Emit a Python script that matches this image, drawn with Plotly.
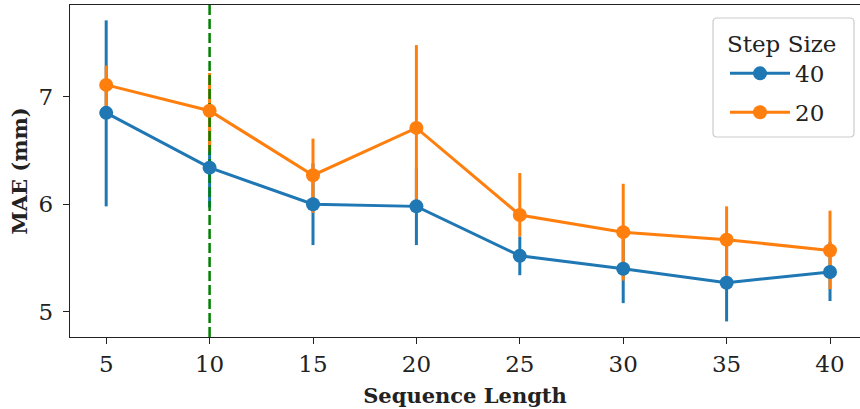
import plotly.graph_objects as go

# Sequence lengths evaluated
seq_len = [5, 10, 15, 20, 25, 30, 35, 40]

# Step size 40: mean MAE and confidence interval bounds (mm)
mae_40 = [6.85, 6.34, 6.00, 5.98, 5.52, 5.40, 5.27, 5.37]
lo_40 = [5.98, 5.97, 5.62, 5.62, 5.34, 5.08, 4.91, 5.10]
hi_40 = [7.71, 6.70, 6.38, 6.34, 5.70, 5.72, 5.63, 5.65]

# Step size 20: mean MAE and confidence interval bounds (mm)
mae_20 = [7.11, 6.87, 6.27, 6.71, 5.90, 5.74, 5.67, 5.57]
lo_20 = [6.89, 6.49, 5.92, 6.02, 5.70, 5.29, 5.29, 5.21]
hi_20 = [7.29, 7.22, 6.61, 7.48, 6.29, 6.19, 5.98, 5.94]

# Chosen sequence length, marked with a dashed line
chosen_len = 10

series = [
    ("40", mae_40, lo_40, hi_40, "#1f77b4"),
    ("20", mae_20, lo_20, hi_20, "#ff7f0e"),
]

x_range = [3.25, 41.45]
y_range = [4.765, 7.853]
font_family = "DejaVu Serif"

fig = go.Figure()

# Error bars first, so every marker sits on top of them
for name, mean, lo, hi, color in series:
    fig.add_trace(go.Scatter(
        x=seq_len, y=mean, mode="markers",
        marker=dict(size=1, color="rgba(0,0,0,0)"),
        error_y=dict(
            type="data", symmetric=False,
            array=[h - m for h, m in zip(hi, mean)],
            arrayminus=[m - l for m, l in zip(mean, lo)],
            color=color, thickness=3, width=0,
        ),
        showlegend=False, hoverinfo="skip",
    ))

# Dashed vertical marker at the chosen sequence length
fig.add_trace(go.Scatter(
    x=[chosen_len, chosen_len], y=y_range, mode="lines",
    line=dict(color="green", width=2.5, dash="10px,4px"),
    showlegend=False, hoverinfo="skip",
))

# Mean lines with markers
for name, mean, lo, hi, color in series:
    fig.add_trace(go.Scatter(
        x=seq_len, y=mean, mode="lines+markers", name=name,
        legendgroup=name,
        line=dict(color=color, width=3),
        marker=dict(size=14, color=color),
    ))

# Rounded legend frame
x0, x1 = (713 - 70) / 790, (854 - 70) / 790
y1, y0 = 1 - (18 - 5) / 332, 1 - (137 - 5) / 332
rx, ry = 4 / 790, 4 / 332
frame = (
    f"M{x0 + rx},{y1} L{x1 - rx},{y1} Q{x1},{y1} {x1},{y1 - ry} "
    f"L{x1},{y0 + ry} Q{x1},{y0} {x1 - rx},{y0} "
    f"L{x0 + rx},{y0} Q{x0},{y0} {x0},{y0 + ry} "
    f"L{x0},{y1 - ry} Q{x0},{y1} {x0 + rx},{y1} Z"
)
fig.add_shape(type="path", path=frame, xref="paper", yref="paper",
              line=dict(color="#cccccc", width=1.2),
              fillcolor="rgba(255,255,255,0.8)", layer="above")

axis_common = dict(
    showgrid=False, zeroline=False,
    showline=True, linecolor="#222222", linewidth=1.3,
    ticks="outside", ticklen=6, tickwidth=1.2, tickcolor="#222222",
    tickfont=dict(family=font_family, size=23, color="#222222"),
)

fig.update_layout(
    width=860, height=409,
    margin=dict(l=70, r=0, t=5, b=72),
    plot_bgcolor="white", paper_bgcolor="white",
    font=dict(family=font_family, color="#222222"),
    xaxis=dict(
        **axis_common, range=x_range, mirror=True,
        tickmode="array", tickvals=seq_len,
        ticklabelstandoff=0,
        title=dict(text="<b>Sequence Length</b>", standoff=12,
                   font=dict(family=font_family, size=21, color="#222222")),
    ),
    yaxis=dict(
        **axis_common, range=y_range,
        tickmode="array", tickvals=[5, 6, 7],
        ticklabelstandoff=5,
        title=dict(text="<b>MAE (mm)</b>", standoff=5,
                   font=dict(family=font_family, size=21, color="#222222")),
    ),
    legend=dict(
        title=dict(text="Step Size", font=dict(family=font_family, size=23)),
        font=dict(family=font_family, size=23, color="#222222"),
        x=(725 - 70) / 790, y=1 - (22 - 5) / 332,
        xanchor="left", yanchor="top",
        bgcolor="rgba(0,0,0,0)", borderwidth=0,
        tracegroupgap=6, itemwidth=60,
    ),
)

fig.write_html("out.html")
